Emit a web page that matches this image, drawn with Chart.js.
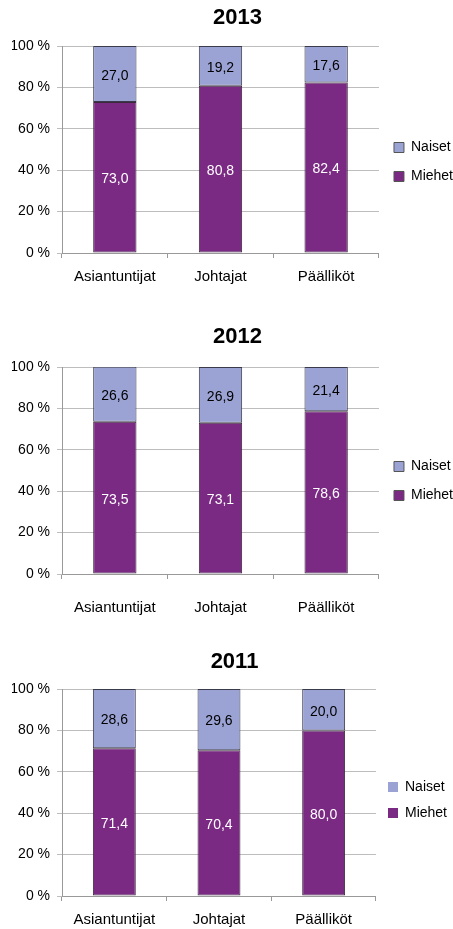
<!DOCTYPE html>
<html>
<head>
<meta charset="utf-8">
<script src="https://cdn.jsdelivr.net/npm/chart.js@4.4.1/dist/chart.umd.min.js"></script>
<style>
  body { margin: 0; background: #fff; width: 453px; height: 929px; overflow: hidden; position: relative; }
  canvas { position: absolute; left: 0; }
</style>
</head>
<body>
<canvas id="c2013" width="453" height="300" style="top:0px"></canvas>
<canvas id="c2012" width="453" height="300" style="top:321px"></canvas>
<canvas id="c2011" width="453" height="286" style="top:643px"></canvas>
<script>
// data (percent of staff per group)
var categories = ['Asiantuntijat', 'Johtajat', 'Päälliköt'];
var seriesNames = ['Miehet', 'Naiset'];
var yTickLabels = ['0 %', '20 %', '40 %', '60 %', '80 %', '100 %'];

var miehet2013 = [73.0, 80.8, 82.4];
var naiset2013 = [27.0, 19.2, 17.6];
var miehet2012 = [73.5, 73.1, 78.6];
var naiset2012 = [26.6, 26.9, 21.4];
var miehet2011 = [71.4, 70.4, 80.0];
var naiset2011 = [28.6, 29.6, 20.0];

var FONT = '"Liberation Sans", Arial, sans-serif';

// values written inside each bar segment
var valueLabels = {
  id: 'valueLabels',
  afterDatasetsDraw: function(chart) {
    var ctx = chart.ctx;
    ctx.save();
    ctx.font = '14px ' + FONT;
    ctx.textAlign = 'center';
    ctx.textBaseline = 'middle';
    chart.data.datasets.forEach(function(ds, i) {
      chart.getDatasetMeta(i).data.forEach(function(bar, j) {
        var mid = (bar.y + bar.base) / 2;
        ctx.fillStyle = ds.labelColor;
        ctx.fillText(ds.data[j].toFixed(1).replace('.', ','), bar.x, mid + 2);
      });
    });
    ctx.restore();
  }
};

function makeChart(id, title, miehet, naiset, opt) {
  var canvas = document.getElementById(id);
  var h = canvas.height;
  return new Chart(canvas, {
    type: 'bar',
    data: {
      labels: categories,
      datasets: [{
        label: seriesNames[0],
        data: miehet,
        backgroundColor: '#7b2a83',
        borderColor: '#3a2a3c',
        borderWidth: 1,
        borderSkipped: false,
        labelColor: '#fff',
        categoryPercentage: 1,
        barPercentage: 0.41
      }, {
        label: seriesNames[1],
        data: naiset,
        backgroundColor: '#9ba3d4',
        borderColor: '#3a3a4a',
        borderWidth: 1,
        borderSkipped: false,
        labelColor: '#000',
        categoryPercentage: 1,
        barPercentage: 0.41
      }]
    },
    options: {
      responsive: false,
      animation: false,
      layout: { padding: { left: 12, right: opt.padRight, top: 0, bottom: 0 } },
      plugins: {
        title: {
          display: true,
          text: title,
          color: '#000',
          font: { family: FONT, size: 22, weight: 'bold' },
          padding: { top: opt.titleTop, bottom: 46 - opt.titleTop - 26.4 }
        },
        legend: {
          position: 'right',
          reverse: true,
          // blank legend title only pushes the items down a little
          title: { display: true, text: ' ', font: { size: 10 }, padding: { top: opt.legendShift / 2 - 6, bottom: opt.legendShift / 2 - 6 } },
          labels: {
            color: '#000',
            font: { family: FONT, size: 14 },
            boxWidth: 10,
            boxHeight: 10,
            padding: opt.legendPad,
            generateLabels: function(chart) {
              var items = Chart.defaults.plugins.legend.labels.generateLabels(chart);
              items.forEach(function(it) {
                it.lineWidth = opt.legendBorder ? 1 : 0;
                it.strokeStyle = '#555';
              });
              return items;
            }
          }
        },
        tooltip: { enabled: false }
      },
      scales: {
        x: {
          stacked: true,
          grid: { drawOnChartArea: false, tickLength: 5, color: '#999', offset: true },
          border: { color: '#999' },
          ticks: { color: '#000', font: { family: FONT, size: 15 }, padding: opt.xPad, maxRotation: 0 },
          afterFit: function(s) { s.height = h - 253; }
        },
        y: {
          stacked: true,
          min: 0,
          max: 100,
          grid: { color: '#bdbdbd', tickLength: 5 },
          border: { color: '#999' },
          ticks: {
            stepSize: 20,
            color: '#000',
            font: { family: FONT, size: 14 },
            padding: 7,
            callback: function(v, i) { return yTickLabels[i]; }
          },
          afterFit: function(s) { s.width = 50; }
        }
      }
    },
    plugins: [valueLabels]
  });
}

makeChart('c2013', '2013', miehet2013, naiset2013, { titleTop: 5, xPad: 10, padRight: -10, legendPad: 15, legendShift: 24, legendBorder: true });
makeChart('c2012', '2012', miehet2012, naiset2012, { titleTop: 3, xPad: 20, padRight: -10, legendPad: 15, legendShift: 20, legendBorder: true });
makeChart('c2011', '2011', miehet2011, naiset2011, { titleTop: 6, xPad: 10, padRight: -4, legendPad: 12, legendShift: 28, legendBorder: false });
</script>
</body>
</html>
